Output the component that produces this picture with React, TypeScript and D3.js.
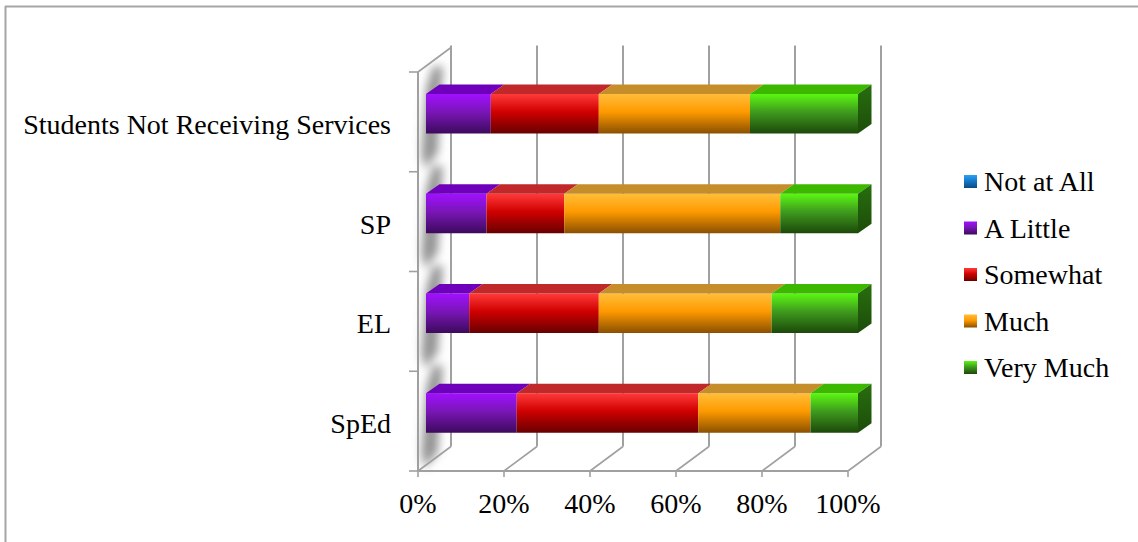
import React from "react";
import * as d3 from "d3";

// Survey response shares (percent of students) per group
const categories = ["Students Not Receiving Services", "SP", "EL", "SpEd"];
const seriesNames = ["Not at All", "A Little", "Somewhat", "Much", "Very Much"];
const notAtAll = [0, 0, 0, 0];
const aLittle = [15, 14, 10, 21];
const somewhat = [25, 18, 30, 42];
const much = [35, 50, 40, 26];
const veryMuch = [25, 18, 20, 11];
const tickValues = [0, 20, 40, 60, 80, 100];
const tickLabels = ["0%", "20%", "40%", "60%", "80%", "100%"];

const palette = [
  { top: "#2aa2f6", mid: "#1479c8", bot: "#0a4a86", cap: "#1a7fd0", side: "#0d4f8a" },
  { top: "#a010ff", mid: "#7a16b8", bot: "#3c0a5c", cap: "#6e00bc", side: "#3e0a66" },
  { top: "#ff3a3a", mid: "#d00000", bot: "#680000", cap: "#c0282a", side: "#6e0000" },
  { top: "#ffbe3a", mid: "#ff9a00", bot: "#8a5000", cap: "#c68e2a", side: "#8a5600" },
  { top: "#5cf712", mid: "#3f9c1e", bot: "#1c480a", cap: "#3cb800", side: "#286e0e" },
];

const FONT = "'Liberation Serif', 'Times New Roman', serif";
const FS = 28;

export default function App() {
  const W = 1138;
  const H = 542;

  // front plane of the 3D box
  const xf0 = 418;
  const xf1 = 848;
  const yTop = 72;
  const yBot = 471;
  // depth offset to back plane
  const DX = 33;
  const DY = -24.5;

  const xFront = d3.scaleLinear().domain([0, 100]).range([xf0, xf1]);
  const yBand = d3.scaleBand<string>().domain(categories).range([yTop, yBot]);

  // bar geometry: front face sits partway into the depth
  const xBar = d3.scaleLinear().domain([0, 100]).range([426, 858]);
  const barTopOffset = 22;
  const barH = 39.5;
  const bdx = 13.5;
  const bdy = -9.5;

  const rows = categories.map((c, i) => ({
    cat: c,
    "Not at All": notAtAll[i],
    "A Little": aLittle[i],
    Somewhat: somewhat[i],
    Much: much[i],
    "Very Much": veryMuch[i],
  }));
  const stacked = d3.stack<any>().keys(seriesNames)(rows);

  const wallPt = (t: number, y: number) => [xf0 + DX * t, y + DY * t];
  const poly = (pts: number[][]) => pts.map((p) => p.join(",")).join(" ");

  const gridColor = "#a0a0a0";

  return (
    <svg
      width={W}
      height={H}
      style={{ position: "absolute", left: 0, top: 0, background: "#fff" }}
    >
      <defs>
        {palette.map((p, i) => (
          <linearGradient key={"f" + i} id={"front" + i} x1="0" y1="0" x2="0" y2="1">
            <stop offset="0%" stopColor={p.top} />
            <stop offset="45%" stopColor={p.mid} />
            <stop offset="100%" stopColor={p.bot} />
          </linearGradient>
        ))}
        {palette.map((p, i) => (
          <linearGradient key={"s" + i} id={"side" + i} x1="0" y1="0" x2="0" y2="1">
            <stop offset="0%" stopColor={p.side} />
            <stop offset="100%" stopColor={d3.color(p.side)!.darker(1).formatHex()} />
          </linearGradient>
        ))}
        <filter id="wallShadow" x="-100%" y="-50%" width="300%" height="200%">
          <feGaussianBlur stdDeviation="5" />
        </filter>
      </defs>

      {/* outer frame */}
      <line x1={5.5} y1={6} x2={5.5} y2={H} stroke="#a6a6a6" strokeWidth={2} />
      <line x1={5} y1={6.5} x2={W} y2={6.5} stroke="#a6a6a6" strokeWidth={2} />

      {/* shadows cast on the side wall */}
      <g filter="url(#wallShadow)">
        {categories.map((c) => {
          const b0 = yBand(c)!;
          const b1 = b0 + yBand.bandwidth();
          const pts = [
            wallPt(0.45, b0 + 6),
            wallPt(0.75, b0 + 12),
            wallPt(0.6, b1 - 4),
            wallPt(0.2, b1 + 2),
            wallPt(0.1, b1 - 16),
            wallPt(0.25, b0 + 22),
          ];
          return <polygon key={c} points={poly(pts)} fill="#707070" opacity={0.75} />;
        })}
      </g>

      {/* back wall gridlines */}
      {tickValues.map((v) => (
        <line
          key={"g" + v}
          x1={xFront(v) + DX}
          x2={xFront(v) + DX}
          y1={yBot + DY}
          y2={yTop + DY - 2}
          stroke={gridColor}
          strokeWidth={2}
        />
      ))}

      {/* floor */}
      <line x1={xf0} x2={xf1} y1={yBot} y2={yBot} stroke={gridColor} strokeWidth={2} />
      {tickValues.map((v) => (
        <g key={"fl" + v}>
          <line
            x1={xFront(v)}
            y1={yBot}
            x2={xFront(v) + DX}
            y2={yBot + DY}
            stroke={gridColor}
            strokeWidth={1.6}
          />
          <line x1={xFront(v)} x2={xFront(v)} y1={yBot} y2={yBot + 6} stroke={gridColor} strokeWidth={1.6} />
        </g>
      ))}

      {/* side wall edges and category ticks */}
      <line x1={xf0} x2={xf0} y1={yTop} y2={yBot} stroke={gridColor} strokeWidth={2} />
      <line x1={xf0} y1={yTop} x2={xf0 + DX} y2={yTop + DY} stroke={gridColor} strokeWidth={1.6} />
      {[...categories.map((c) => yBand(c)!), yBot].map((y, i) => (
        <line key={"t" + i} x1={xf0 - 9} x2={xf0} y1={y} y2={y} stroke={gridColor} strokeWidth={1.6} />
      ))}

      {/* stacked 3D bars */}
      {categories.map((c, ci) => {
        const top = yBand(c)! + barTopOffset;
        const segs = stacked.map((s, si) => ({ si, x0: s[ci][0], x1: s[ci][1] }));
        const visible = segs.filter((s) => s.x1 - s.x0 > 0);
        const last = visible[visible.length - 1];
        return (
          <g key={c}>
            {visible.map((s) => {
              const a = xBar(s.x0);
              const b = xBar(s.x1);
              return (
                <g key={s.si}>
                  <rect x={a} y={top} width={b - a} height={barH} fill={`url(#front${s.si})`} />
                  <polygon
                    points={poly([
                      [a, top],
                      [b, top],
                      [b + bdx, top + bdy],
                      [a + bdx, top + bdy],
                    ])}
                    fill={palette[s.si].cap}
                  />
                </g>
              );
            })}
            {last && (
              <polygon
                points={poly([
                  [xBar(last.x1), top],
                  [xBar(last.x1) + bdx, top + bdy],
                  [xBar(last.x1) + bdx, top + barH + bdy],
                  [xBar(last.x1), top + barH],
                ])}
                fill={`url(#side${last.si})`}
              />
            )}
          </g>
        );
      })}

      {/* category labels */}
      {categories.map((c) => (
        <text
          key={"l" + c}
          x={391}
          y={yBand(c)! + yBand.bandwidth() / 2 + 12}
          textAnchor="end"
          fontFamily={FONT}
          fontSize={FS}
          fill="#000"
        >
          {c}
        </text>
      ))}

      {/* value axis labels */}
      {tickValues.map((v, i) => (
        <text
          key={"x" + v}
          x={xFront(v)}
          y={513}
          textAnchor="middle"
          fontFamily={FONT}
          fontSize={FS}
          fill="#000"
        >
          {tickLabels[i]}
        </text>
      ))}

      {/* legend */}
      {seriesNames.map((n, i) => {
        const cy = 182 + i * 46.5;
        return (
          <g key={"lg" + n}>
            <rect x={964} y={cy - 7} width={13} height={13} fill={`url(#front${i})`} />
            <text x={984} y={cy + 9} fontFamily={FONT} fontSize={FS} fill="#000">
              {n}
            </text>
          </g>
        );
      })}
    </svg>
  );
}
